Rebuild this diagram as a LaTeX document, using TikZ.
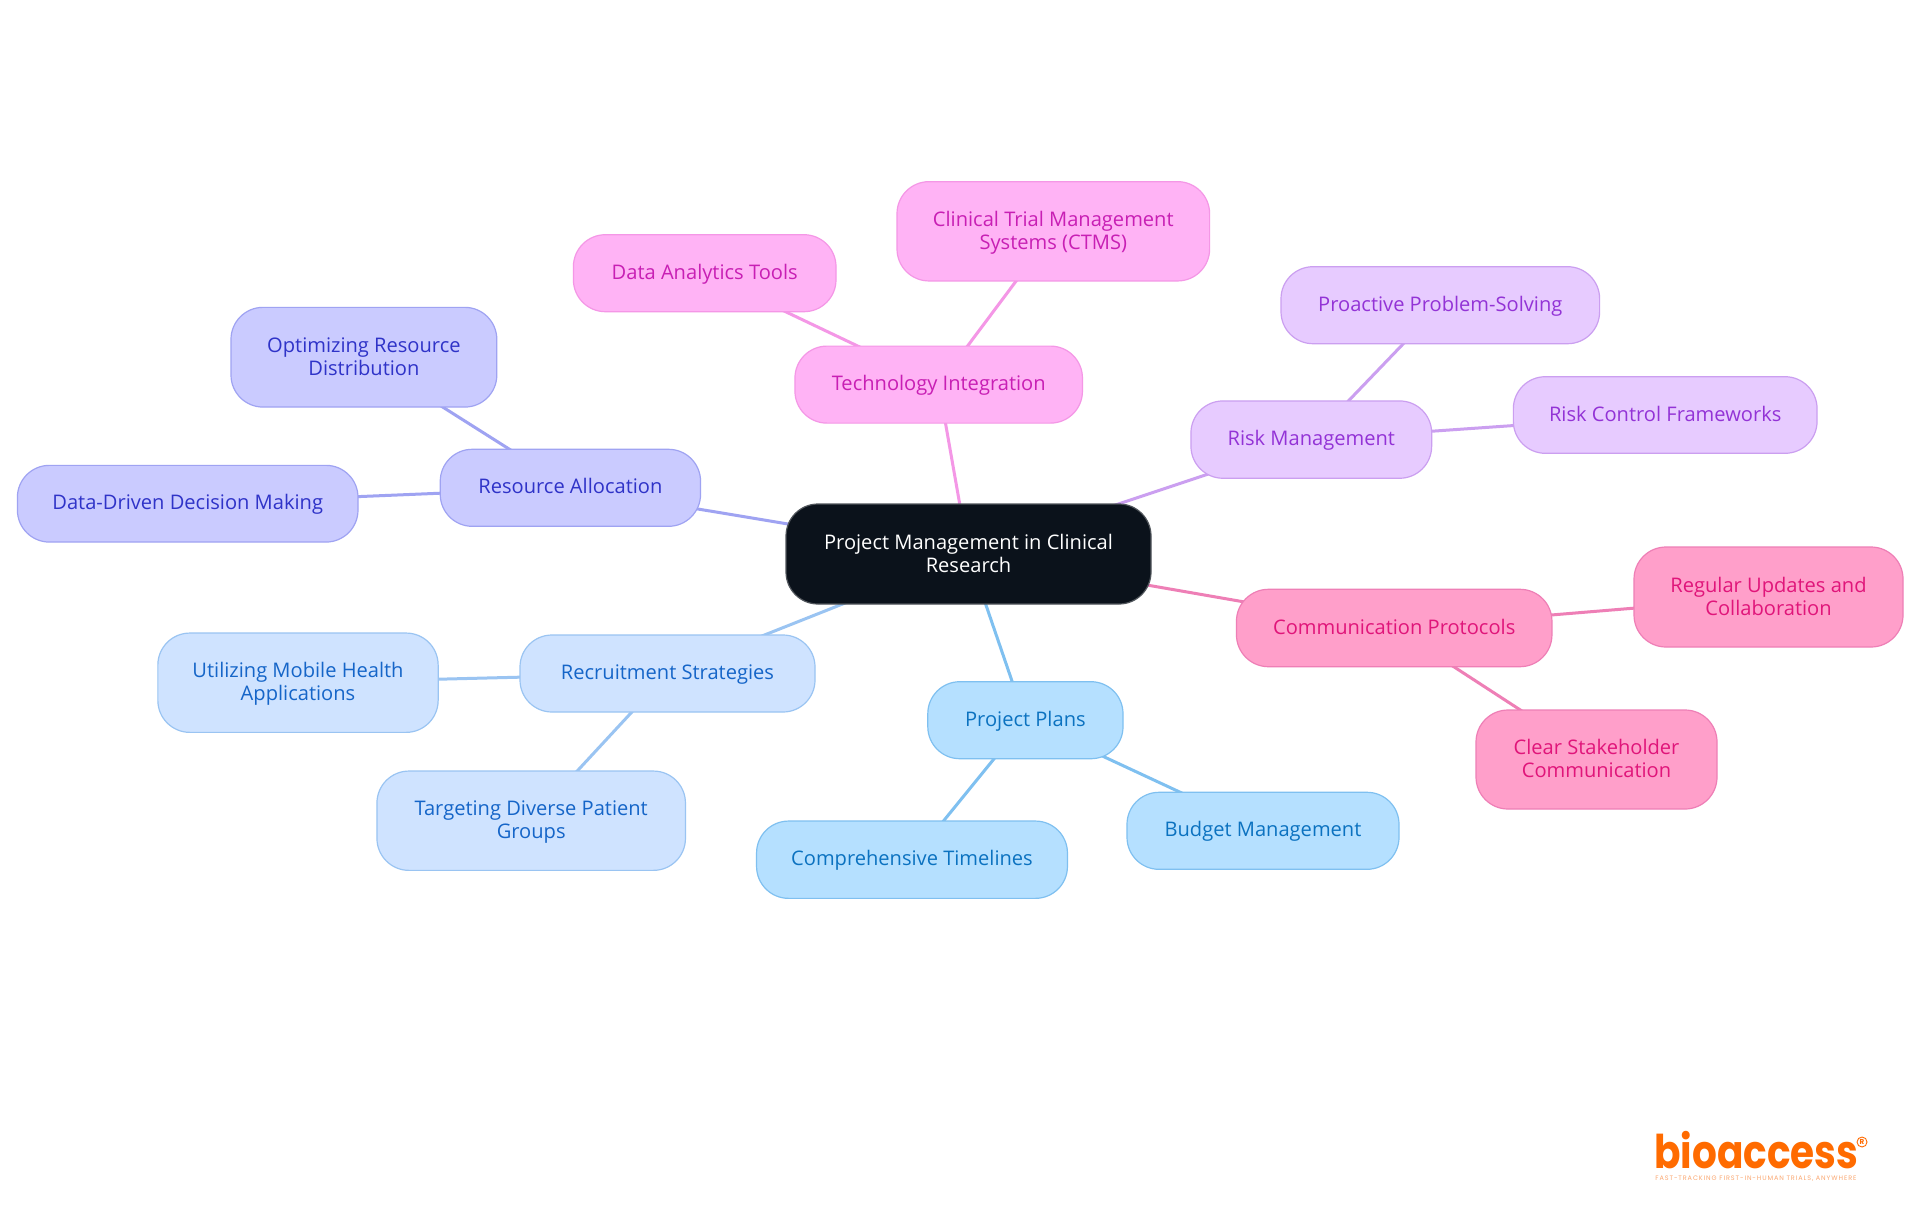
\documentclass[tikz,border=0pt]{standalone}
\usepackage{fontspec}
\usepackage{graphicx}
\setmainfont{Open Sans}
\newfontfamily\logofont{Poppins}
\usetikzlibrary{backgrounds}
\definecolor{rootfill}{HTML}{0B121B}\definecolor{rootline}{HTML}{50555B}
\definecolor{pinkfill}{HTML}{FF9FCA}\definecolor{pinkline}{HTML}{EE7FB6}\definecolor{pinktext}{HTML}{E0157A}
\definecolor{magfill}{HTML}{FFB3F5}\definecolor{magline}{HTML}{F497E6}\definecolor{magtext}{HTML}{C81FB4}
\definecolor{purfill}{HTML}{E7CBFF}\definecolor{purline}{HTML}{CB9FF0}\definecolor{purtext}{HTML}{9333D6}
\definecolor{indfill}{HTML}{CACBFF}\definecolor{indline}{HTML}{9FA3F2}\definecolor{indtext}{HTML}{2F33C8}
\definecolor{lblfill}{HTML}{CFE3FF}\definecolor{lblline}{HTML}{9AC4F2}\definecolor{lbltext}{HTML}{1565C8}
\definecolor{skyfill}{HTML}{B5E0FF}\definecolor{skyline}{HTML}{7FC0F0}\definecolor{skytext}{HTML}{0B72C0}
\definecolor{logoorange}{HTML}{FF6B00}\definecolor{logotag}{HTML}{FBA872}
\newcommand{\nodestrut}{\rule[-2.5pt]{0pt}{11pt}}
\newcommand{\twolinetext}[2]{\rule{0pt}{9.5pt}#1\\\rule[-3pt]{0pt}{7pt}\smash{#2}}
\tikzset{
  x=0.5pt,y=-0.5pt,
  mapnode/.style={rectangle,draw,line width=0.6pt,rounded corners=16pt,inner sep=0pt,align=center,
    font=\fontsize{10.05}{11.5}\selectfont},
  oneline/.style={execute at begin node=\nodestrut,execute at end node=\nodestrut},
  rootnode/.style={mapnode,fill=rootfill,draw=rootline,text=white},
  pinknode/.style={mapnode,fill=pinkfill,draw=pinkline,text=pinktext},
  magnode/.style={mapnode,fill=magfill,draw=magline,text=magtext},
  purnode/.style={mapnode,fill=purfill,draw=purline,text=purtext},
  indnode/.style={mapnode,fill=indfill,draw=indline,text=indtext},
  lblnode/.style={mapnode,fill=lblfill,draw=lblline,text=lbltext},
  skynode/.style={mapnode,fill=skyfill,draw=skyline,text=skytext},
  link/.style={line width=1.5pt},
  sz/.style n args={2}{minimum width=#1*0.5pt,minimum height=#2*0.5pt}
}
\begin{document}
\begin{tikzpicture}
\useasboundingbox (0,0) rectangle (1920,1215);
\node[rootnode,sz={365}{100}] (root) at (968.5,554) {\twolinetext{Project Management in Clinical}{Research}};
\node[magnode,oneline,sz={287.5}{77}] (tech) at (938.7,384.6) {Technology Integration};
\node[magnode,sz={312.6}{99.3}] (ctms) at (1053.3,231.3) {\twolinetext{Clinical Trial Management}{Systems (CTMS)}};
\node[magnode,oneline,sz={262.6}{77}] (analytics) at (704.7,273.2) {Data Analytics Tools};
\node[purnode,oneline,sz={240.7}{77.3}] (risk) at (1311.3,439.6) {Risk Management};
\node[purnode,oneline,sz={318.6}{77}] (proactive) at (1440.3,305.2) {Proactive Problem-Solving};
\node[purnode,oneline,sz={303.7}{76.6}] (riskctl) at (1665.2,415) {Risk Control Frameworks};
\node[indnode,oneline,sz={260.3}{77}] (resource) at (570.4,487.8) {Resource Allocation};
\node[indnode,sz={265.8}{99.7}] (optim) at (363.9,357.2) {\twolinetext{Optimizing Resource}{Distribution}};
\node[indnode,oneline,sz={340.6}{76.7}] (driven) at (187.7,503.7) {Data-Driven Decision Making};
\node[lblnode,oneline,sz={295}{77}] (recruit) at (667.5,673.5) {Recruitment Strategies};
\node[lblnode,sz={280.3}{99.3}] (mobile) at (298,682.7) {\twolinetext{Utilizing Mobile Health}{Applications}};
\node[lblnode,sz={308.5}{99.3}] (target) at (531.2,820.7) {\twolinetext{Targeting Diverse Patient}{Groups}};
\node[skynode,oneline,sz={195.2}{77}] (plans) at (1025.4,720.2) {Project Plans};
\node[skynode,oneline,sz={310.9}{77.3}] (timeline) at (912,859.7) {Comprehensive Timelines};
\node[skynode,oneline,sz={272}{77}] (budget) at (1263,830.8) {Budget Management};
\node[pinknode,oneline,sz={315.5}{77.4}] (comm) at (1394.2,628) {Communication Protocols};
\node[pinknode,sz={269}{100}] (regular) at (1768.5,597) {\twolinetext{Regular Updates and}{Collaboration}};
\node[pinknode,sz={241}{99}] (clear) at (1596.5,759.5) {\twolinetext{Clear Stakeholder}{Communication}};
\node[anchor=south west,inner sep=0pt,text=logoorange] (logo) at (1654,1169)
  {\resizebox{102pt}{18.6pt}{\logofont\bfseries bioaccess}};
\node[circle,draw=logoorange,line width=0.45pt,text=logoorange,inner sep=0pt,minimum size=5pt,
  font=\logofont\bfseries\fontsize{3.6}{4}\selectfont] (regmark) at (1862,1142) {R};
\node[anchor=north west,inner sep=0pt,text=logotag] (tagline) at (1655,1176)
  {\resizebox{100.5pt}{!}{\logofont\addfontfeature{LetterSpace=14}\fontsize{4}{5}\selectfont FAST-TRACKING FIRST-IN-HUMAN TRIALS, ANYWHERE}};
\begin{scope}[on background layer]
\fill[white] (0,0) rectangle (1920,1215);
\draw[link,draw=magline] (root.center) -- (tech.center);
\draw[link,draw=magline] (tech.center) -- (ctms.center);
\draw[link,draw=magline] (tech.center) -- (analytics.center);
\draw[link,draw=purline] (root.center) -- (risk.center);
\draw[link,draw=purline] (risk.center) -- (proactive.center);
\draw[link,draw=purline] (risk.center) -- (riskctl.center);
\draw[link,draw=indline] (root.center) -- (resource.center);
\draw[link,draw=indline] (resource.center) -- (optim.center);
\draw[link,draw=indline] (resource.center) -- (driven.center);
\draw[link,draw=lblline] (root.center) -- (recruit.center);
\draw[link,draw=lblline] (recruit.center) -- (mobile.center);
\draw[link,draw=lblline] (recruit.center) -- (target.center);
\draw[link,draw=skyline] (root.center) -- (plans.center);
\draw[link,draw=skyline] (plans.center) -- (timeline.center);
\draw[link,draw=skyline] (plans.center) -- (budget.center);
\draw[link,draw=pinkline] (root.center) -- (comm.center);
\draw[link,draw=pinkline] (comm.center) -- (regular.center);
\draw[link,draw=pinkline] (comm.center) -- (clear.center);
\end{scope}
\end{tikzpicture}
\end{document}
